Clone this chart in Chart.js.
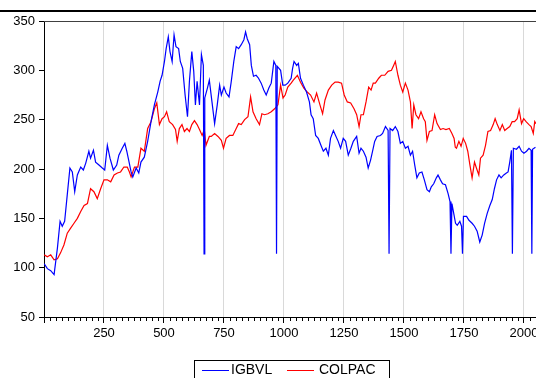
<!DOCTYPE html>
<html>
<head>
<meta charset="utf-8">
<script src="https://cdn.jsdelivr.net/npm/chart.js@4"></script>
<style>
  html, body { margin: 0; padding: 0; background: #fff; overflow: hidden; }
  #wrap { width: 560px; height: 378px; }
</style>
</head>
<body>
<div id="wrap"><canvas id="chart" width="560" height="378"></canvas></div>
<script>
var igbvlIdx = [1, 14, 28, 42, 56, 67, 76, 86, 97, 108, 118, 128, 139, 153, 164, 174, 187, 194, 206, 215, 229, 243, 253, 264, 275, 289, 303, 312, 326, 337, 345, 363, 370, 384, 395, 404, 418, 432, 446, 460, 474, 484, 492, 502, 509, 518, 525, 534, 542, 550, 561, 568, 578, 588, 598, 606, 616, 624, 631, 638, 648, 656, 664, 667, 670, 681, 689, 700, 711, 722, 732, 739, 750, 759, 771, 780, 791, 801, 811, 822, 833, 840, 847, 857, 864, 873, 884, 894, 905, 916, 926, 937, 947, 958, 966, 969, 972, 986, 995, 1005, 1016, 1030, 1036, 1042, 1053, 1060, 1069, 1081, 1094, 1106, 1113, 1122, 1132, 1143, 1154, 1164, 1175, 1185, 1194, 1206, 1215, 1226, 1236, 1247, 1257, 1268, 1279, 1289, 1303, 1313, 1321, 1331, 1342, 1351, 1361, 1370, 1378, 1388, 1402, 1411, 1423, 1434, 1438, 1442, 1453, 1464, 1475, 1485, 1495, 1506, 1517, 1527, 1536, 1545, 1554, 1564, 1575, 1585, 1596, 1606, 1614, 1624, 1635, 1642, 1652, 1661, 1673, 1684, 1692, 1696, 1700, 1709, 1715, 1722, 1733, 1740, 1744, 1748, 1761, 1771, 1784, 1794, 1805, 1816, 1826, 1836, 1847, 1858, 1868, 1877, 1886, 1896, 1905, 1916, 1927, 1934, 1941, 1948, 1952, 1956, 1969, 1980, 1990, 2000, 2011, 2021, 2030, 2033, 2036, 2048];
var igbvlVal = [104, 99, 97, 93, 120, 147, 142, 147, 174, 201, 197, 177, 194, 202, 199, 206, 218, 211, 219, 207, 204, 201, 199, 224, 211, 199, 204, 214, 221, 226, 218, 197, 192, 201, 196, 207, 212, 228, 248, 265, 278, 289, 295, 309, 322, 334, 319, 309, 336, 324, 322, 309, 302, 275, 253, 289, 319, 299, 265, 289, 265, 316, 305, 114, 272, 282, 290, 268, 246, 265, 285, 275, 283, 277, 273, 288, 309, 324, 322, 326, 331, 339, 332, 326, 305, 294, 295, 292, 287, 280, 275, 282, 287, 309, 305, 114, 304, 300, 285, 285, 287, 292, 302, 309, 305, 307, 292, 285, 278, 268, 255, 251, 234, 231, 224, 218, 221, 214, 231, 239, 234, 228, 221, 231, 228, 214, 221, 228, 233, 216, 221, 218, 212, 201, 209, 219, 228, 233, 234, 236, 243, 239, 114, 241, 239, 243, 238, 226, 228, 221, 223, 214, 218, 204, 191, 196, 197, 189, 179, 177, 182, 185, 191, 194, 189, 185, 184, 175, 167, 114, 165, 153, 145, 143, 147, 142, 114, 152, 152, 148, 145, 142, 137, 126, 133, 145, 155, 163, 169, 180, 189, 194, 191, 194, 196, 197, 207, 219, 114, 221, 220, 223, 218, 216, 218, 221, 219, 114, 220, 222];

var colpacIdx = [1, 14, 28, 42, 56, 69, 83, 97, 111, 125, 139, 153, 167, 181, 194, 208, 222, 236, 250, 264, 278, 292, 306, 319, 333, 347, 356, 363, 377, 391, 404, 418, 432, 446, 460, 470, 481, 492, 502, 511, 522, 536, 548, 555, 564, 575, 585, 596, 606, 616, 627, 638, 648, 659, 668, 675, 689, 697, 711, 725, 739, 748, 759, 773, 787, 801, 811, 822, 836, 850, 861, 871, 884, 898, 908, 919, 933, 947, 961, 975, 986, 996, 1005, 1016, 1030, 1039, 1056, 1069, 1083, 1097, 1111, 1125, 1136, 1150, 1161, 1171, 1185, 1199, 1213, 1226, 1240, 1251, 1264, 1278, 1292, 1303, 1313, 1321, 1331, 1342, 1353, 1363, 1372, 1381, 1395, 1406, 1420, 1434, 1448, 1457, 1464, 1475, 1485, 1495, 1506, 1517, 1527, 1534, 1541, 1550, 1561, 1571, 1582, 1589, 1596, 1606, 1617, 1628, 1638, 1652, 1663, 1675, 1689, 1700, 1709, 1714, 1719, 1729, 1738, 1747, 1757, 1766, 1775, 1784, 1794, 1802, 1812, 1819, 1830, 1840, 1850, 1861, 1872, 1880, 1889, 1900, 1910, 1920, 1930, 1941, 1951, 1961, 1972, 1980, 1990, 1999, 2009, 2021, 2030, 2039, 2045, 2050];
var colpacVal = [113, 111, 113, 108, 109, 115, 123, 135, 140, 145, 150, 157, 163, 165, 180, 177, 170, 180, 189, 189, 187, 194, 196, 197, 202, 202, 197, 192, 202, 202, 221, 218, 241, 248, 261, 267, 245, 251, 253, 258, 248, 245, 240, 228, 241, 245, 238, 241, 238, 245, 249, 245, 240, 234, 240, 224, 233, 233, 236, 233, 229, 221, 231, 234, 234, 241, 246, 245, 250, 253, 273, 258, 251, 245, 256, 255, 256, 258, 261, 265, 285, 272, 275, 283, 287, 290, 295, 288, 282, 278, 275, 268, 277, 265, 256, 270, 280, 285, 288, 288, 287, 275, 268, 267, 261, 255, 243, 255, 255, 268, 283, 280, 287, 287, 292, 295, 295, 299, 300, 305, 309, 295, 285, 278, 287, 280, 268, 241, 265, 255, 251, 258, 251, 248, 229, 238, 239, 255, 246, 240, 241, 240, 241, 236, 231, 222, 221, 228, 223, 231, 226, 218, 204, 191, 207, 201, 194, 211, 214, 224, 238, 239, 245, 251, 245, 239, 245, 239, 241, 243, 248, 248, 251, 260, 246, 251, 248, 245, 243, 236, 248, 246];

var seriesNames = ["IGBVL", "COLPAC"];
var yTicks = [50, 100, 150, 200, 250, 300, 350];

function toPoints(xs, ys) {
  return xs.map(function (x, i) { return { x: x, y: ys[i] }; });
}

Chart.defaults.font.family = "'Liberation Sans', Arial, sans-serif";
Chart.defaults.font.size = 13;
Chart.defaults.color = "#000";

// top rule, plot top border, minor ticks on the x axis, boxed legend
var frame = {
  id: "frame",
  afterDraw: function (chart) {
    var ctx = chart.ctx;
    var a = chart.chartArea;
    var xs = chart.scales.x;
    ctx.save();
    ctx.fillStyle = "#000";
    ctx.fillRect(0, 10, chart.width, 2);

    ctx.strokeStyle = "#404040";
    ctx.lineWidth = 1;
    ctx.beginPath();
    ctx.moveTo(a.left, a.top + 0.5);
    ctx.lineTo(a.right, a.top + 0.5);
    ctx.stroke();

    ctx.strokeStyle = "#000";
    ctx.beginPath();
    for (var v = 25; v <= xs.max; v += 25) {
      if (v % 250 === 0) continue;
      var px = Math.round(xs.getPixelForValue(v)) + 0.5;
      ctx.moveTo(px, a.bottom);
      ctx.lineTo(px, a.bottom + 4);
    }
    ctx.stroke();

    // legend
    ctx.strokeRect(194.5, 360.5, 195, 30);
    ctx.font = "14px 'Liberation Sans', Arial, sans-serif";
    ctx.textBaseline = "middle";
    ctx.fillStyle = "#000";
    var lineStart = [202, 287];
    var textStart = [231, 319];
    chart.data.datasets.forEach(function (ds, i) {
      ctx.strokeStyle = ds.borderColor;
      ctx.beginPath();
      ctx.moveTo(lineStart[i], 370.5);
      ctx.lineTo(lineStart[i] + 27, 370.5);
      ctx.stroke();
      ctx.fillText(ds.label, textStart[i], 370);
    });
    ctx.restore();
  }
};

new Chart(document.getElementById("chart"), {
  type: "line",
  data: {
    datasets: [
      {
        label: seriesNames[0],
        data: toPoints(igbvlIdx, igbvlVal),
        borderColor: "#0000ff",
        borderWidth: 1.2,
        pointRadius: 0,
        tension: 0
      },
      {
        label: seriesNames[1],
        data: toPoints(colpacIdx, colpacVal),
        borderColor: "#ff0000",
        borderWidth: 1.2,
        pointRadius: 0,
        tension: 0
      }
    ]
  },
  options: {
    responsive: false,
    animation: false,
    devicePixelRatio: 1,
    layout: { padding: { top: 21, right: 8, bottom: 0, left: 0 } },
    plugins: {
      legend: { display: false },
      tooltip: { enabled: false }
    },
    scales: {
      x: {
        type: "linear",
        min: 0,
        max: 2117,
        afterFit: function (s) { s.height = 61; },
        ticks: {
          stepSize: 250,
          includeBounds: false,
          autoSkip: false,
          maxRotation: 0,
          padding: 3,
          callback: function (v) { return v === 0 ? "" : String(v); }
        },
        grid: {
          color: function (c) { return c.tick && c.tick.value === 0 ? "rgba(0,0,0,0)" : "#d9d9d9"; },
          tickColor: "#000",
          tickLength: 6
        },
        border: { color: "#000" }
      },
      y: {
        min: yTicks[0],
        max: yTicks[yTicks.length - 1],
        afterFit: function (s) { s.width = 44; },
        afterBuildTicks: function (s) { s.ticks = yTicks.map(function (v) { return { value: v }; }); },
        ticks: { padding: 4, callback: function (v) { return String(v); } },
        grid: { drawOnChartArea: false, tickColor: "#000", tickLength: 5 },
        border: { color: "#000" }
      }
    }
  },
  plugins: [frame]
});
</script>
</body>
</html>
